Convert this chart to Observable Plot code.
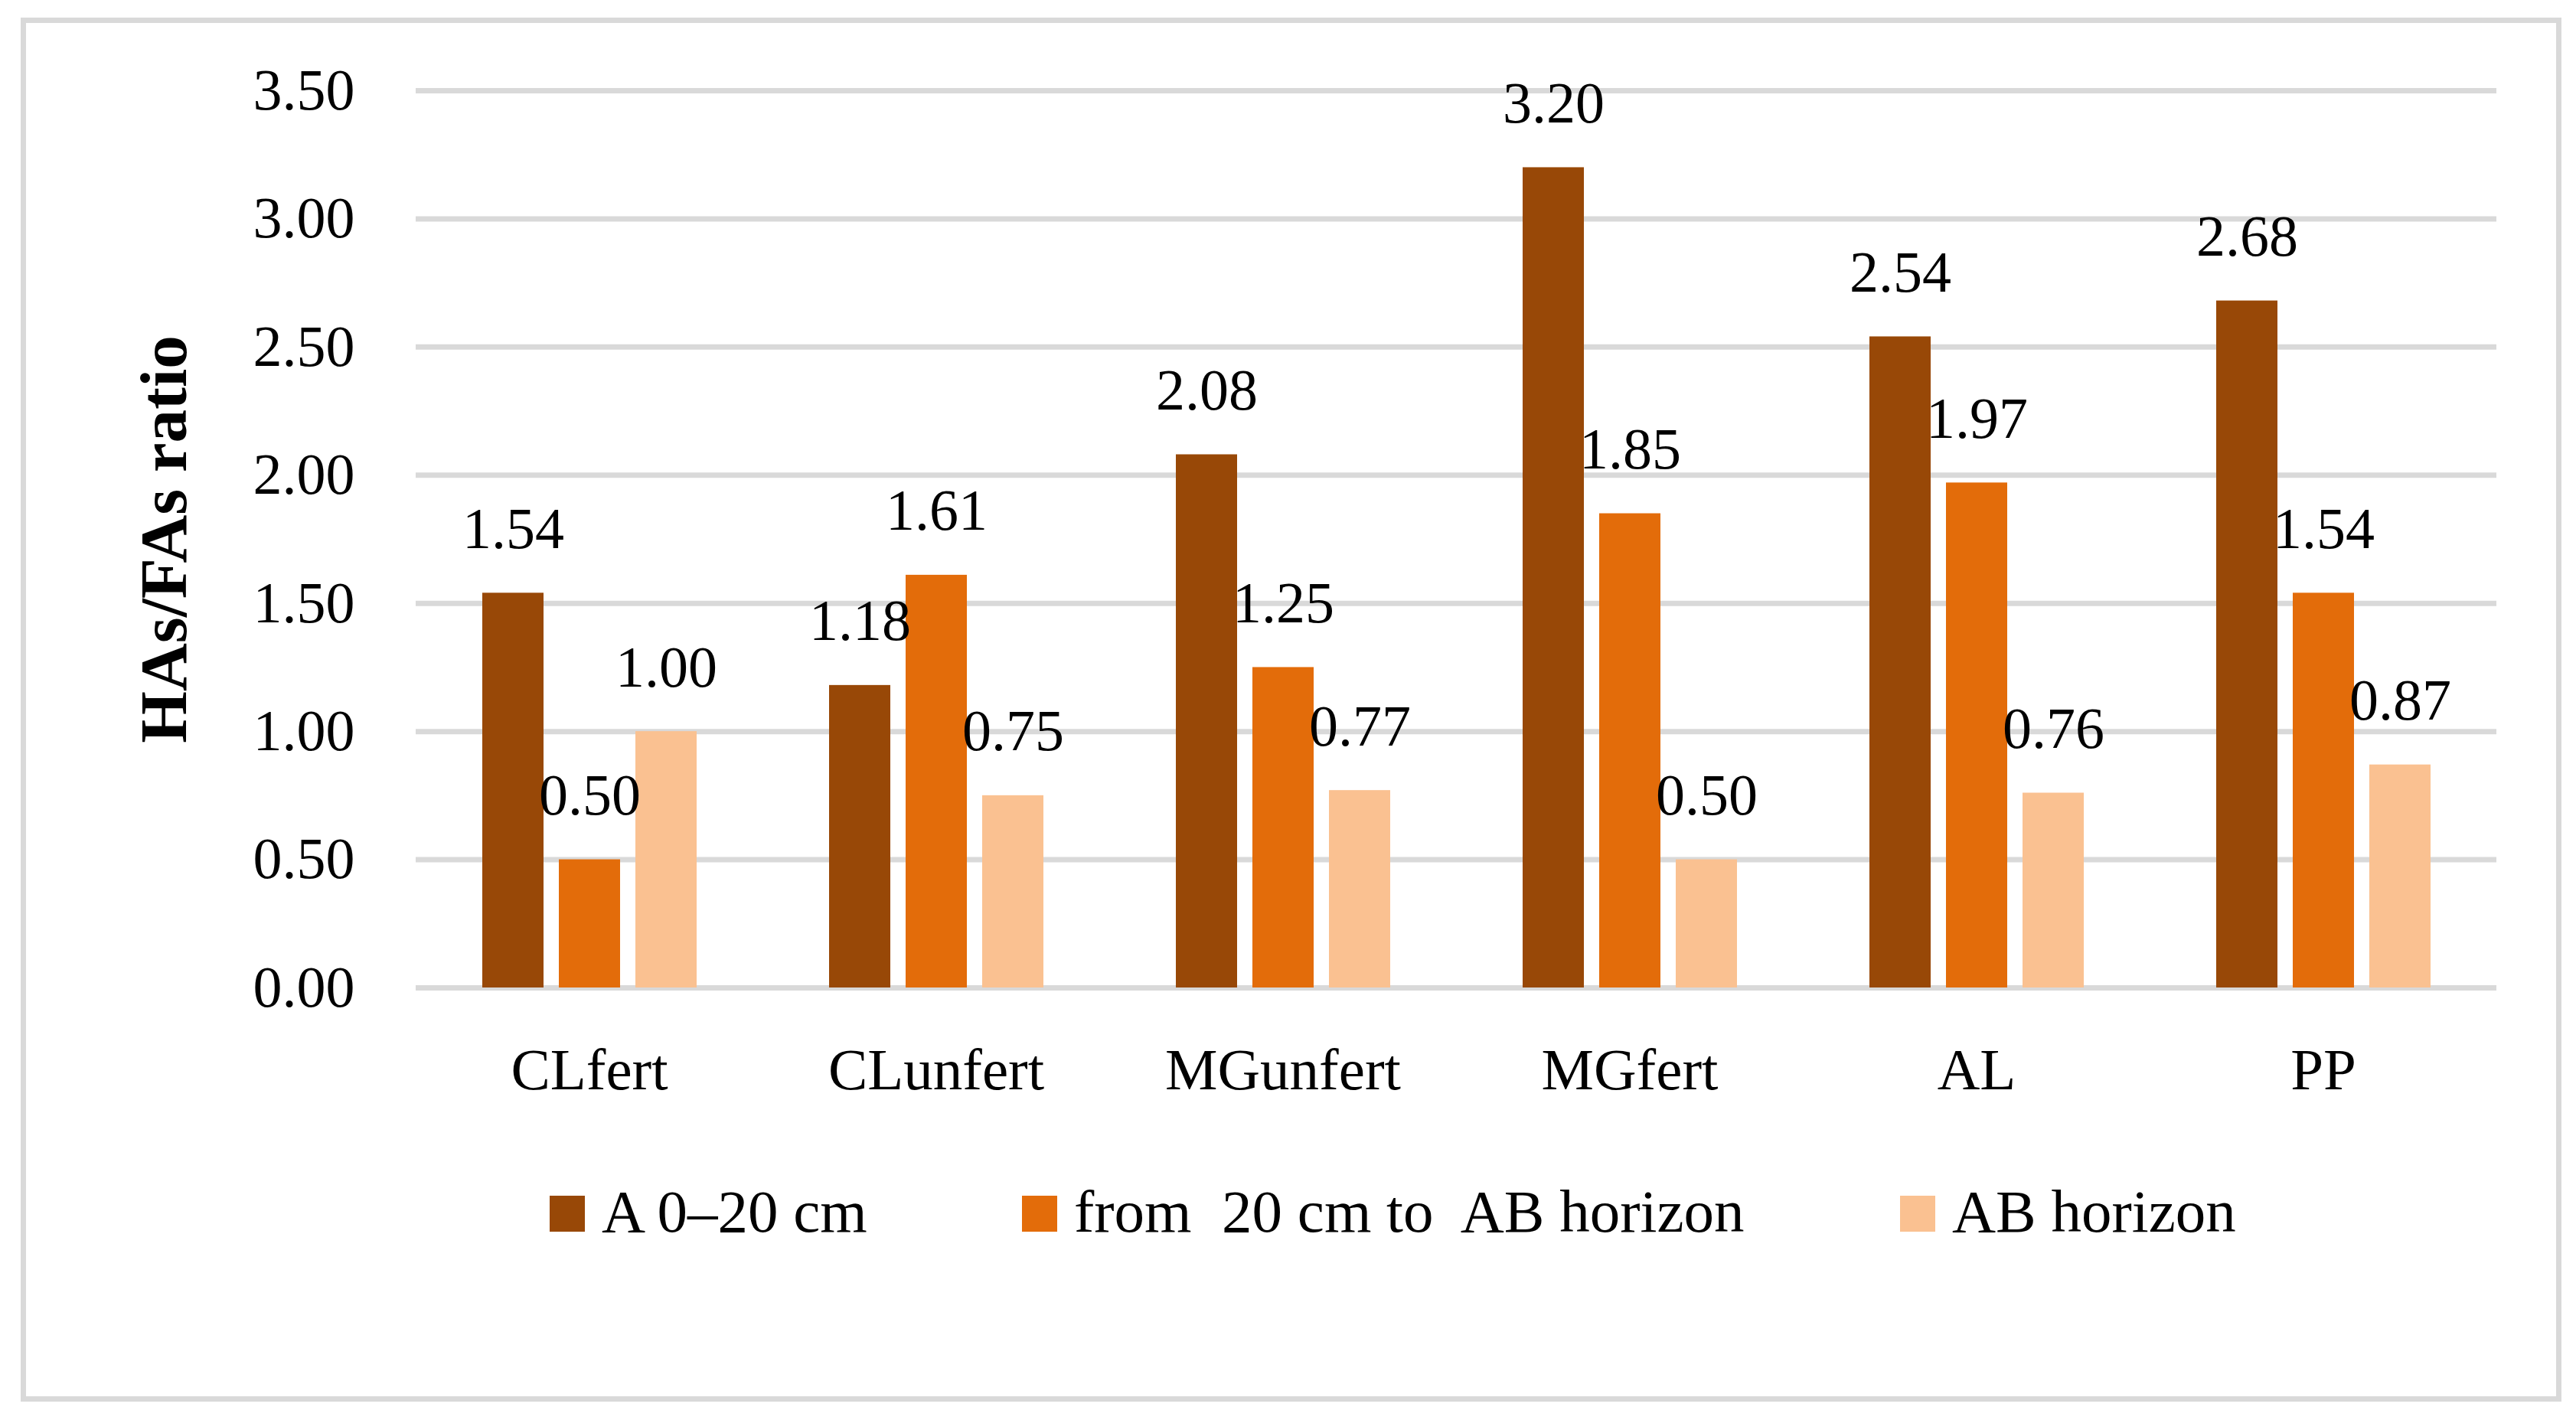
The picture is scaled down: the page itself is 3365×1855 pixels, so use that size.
<!DOCTYPE html>
<html><head><meta charset="utf-8">
<script src="https://cdn.jsdelivr.net/npm/d3@7"></script>
<script src="https://cdn.jsdelivr.net/npm/@observablehq/plot@0.6"></script>
<style>
html,body{margin:0;padding:0;background:#fff;}
body{width:3365px;height:1855px;position:relative;overflow:hidden;font-family:"Liberation Serif","Times New Roman",serif;}
#frame{position:absolute;left:27px;top:23px;width:3319px;height:1808px;border:7px solid #d9d9d9;box-sizing:border-box;background:#fff;}
#chart{position:absolute;left:0;top:0;}
#chart svg{overflow:visible;}
g[aria-label="y-axis label"] text{font-weight:bold;font-size:87px;}
.item{position:absolute;top:1532px;height:47px;display:flex;align-items:center;}
.sw{width:46px;height:47px;flex:none;}
.lab{font-size:79px;white-space:pre;margin-left:22px;line-height:47px;position:relative;top:-3px;color:#000;}
</style>
</head><body>
<div id="frame"><div id="chart"></div><div id="legend"></div></div>
<script>
const categories = ["CLfert","CLunfert","MGunfert","MGfert","AL","PP"];
const series = ["A 0–20 cm","from  20 cm to  AB horizon","AB horizon"];
const valuesA = [1.54,1.18,2.08,3.20,2.54,2.68];
const valuesMid = [0.50,1.61,1.25,1.85,1.97,1.54];
const valuesAB = [1.00,0.75,0.77,0.50,0.76,0.87];
const colors = ["#984807","#E36C0A","#FAC191"];
const yTicks = [0,0.5,1,1.5,2,2.5,3,3.5];
const legendLeft = [684,1301,2448];

const seriesValues = [valuesA, valuesMid, valuesAB];
const rows = categories.flatMap((c,i)=>series.map((s,j)=>({category:c, series:s, value:seriesValues[j][i]})));

const chart = Plot.plot({
  width: 3305, height: 1480,
  marginLeft: 508, marginRight: 77, marginTop: 88, marginBottom: 220,
  style: {fontFamily: '"Liberation Serif","Times New Roman",serif', fontSize: "76px", color: "#000", background: "#fff"},
  fx: {domain: categories, padding: 0, label: null, axis: null},
  x: {domain: series, paddingInner: 0.2, paddingOuter: 0.865, axis: null},
  y: {domain: [0, 3.5], axis: null},
  color: {domain: series, range: colors},
  marks: [
    Plot.ruleY(yTicks, {stroke: "#d9d9d9", strokeWidth: 7}),
    Plot.barY(rows, {fx: "category", x: "series", y: "value", fill: "series"}),
    Plot.text(rows, {fx: "category", x: "series", y: "value", text: d => d.value.toFixed(2), lineAnchor: "bottom", dy: -59, fontSize: 76, fill: "#000"}),
    Plot.axisY({ticks: yTicks, tickFormat: d => d.toFixed(2), tickSize: 0, tickPadding: 80, fontSize: 76, label: "HAs/FAs ratio", labelAnchor: "center", labelArrow: "none", labelOffset: 362}),
    Plot.axisFx({anchor: "bottom", tickSize: 0, tickPadding: 78, fontSize: 77, label: null})
  ]
});
document.getElementById("chart").appendChild(chart);

const legend = document.getElementById("legend");
series.forEach((s,i)=>{
  const it = document.createElement("div");
  it.className = "item";
  it.style.left = legendLeft[i] + "px";
  const sw = document.createElement("div");
  sw.className = "sw"; sw.style.background = colors[i];
  const lb = document.createElement("span");
  lb.className = "lab"; lb.textContent = s;
  it.appendChild(sw); it.appendChild(lb);
  legend.appendChild(it);
});
</script>
</body></html>
